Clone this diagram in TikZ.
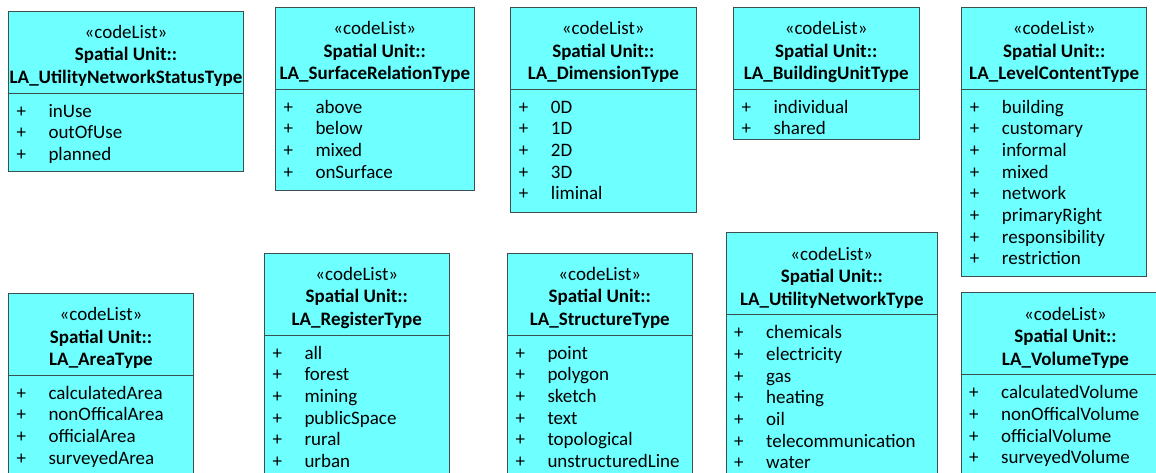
\documentclass[tikz,border=0pt]{standalone}
\usepackage{fontspec}
\setmainfont{Carlito}
\usepackage{tikz}
\definecolor{listfill}{RGB}{110,255,255}
\definecolor{listline}{RGB}{60,80,80}
\tikzset{%
  listbox/.style={draw=listline, fill=listfill, line width=1pt},
  headtext/.style={align=center, inner sep=0pt, font=\fontsize{19}{22.5}\selectfont},
  itemtext/.style={inner sep=0pt, anchor=base west, font=\fontsize{19}{22}\selectfont},
}
% #1 name, #2 left, #3 top, #4 right, #5 bottom, #6 type, #7 literals
\newcommand{\codeListBox}[7]{%
  \draw[listbox] (#2,#3) rectangle (#4,#5);
  \node[headtext, anchor=north] (#1) at ({(#2+#4)/2},#3+14)
    {«codeList»\\ \textbf{Spatial Unit::}\\ \textbf{#6}};
  \draw[listline, line width=1pt] (#2,#3+82) -- (#4,#3+82);
  \foreach \lit [count=\i] in {#7} {
    \node[itemtext] at (#2+8,{#3+82+24+(\i-1)*21.67}) {+};
    \node[itemtext] at (#2+40,{#3+82+24+(\i-1)*21.67}) {\lit};
  }
}

\begin{document}
\begin{tikzpicture}[x=1pt, y=-1pt]
    \useasboundingbox (0,0) rectangle (1156,472);
    \clip (0,0) rectangle (1156,472);

    %first row
    \codeListBox{statusType}{8.3}{11}{243.7}{171}{LA\_UtilityNetworkStatusType}{inUse, outOfUse, planned}
    \codeListBox{surfaceType}{275.3}{7.3}{474.3}{190}{LA\_SurfaceRelationType}{above, below, mixed, onSurface}
    \codeListBox{dimensionType}{510.7}{7.3}{696}{212}{LA\_DimensionType}{0D, 1D, 2D, 3D, liminal}
    \codeListBox{buildingType}{733.3}{7.3}{919}{139}{LA\_BuildingUnitType}{individual, shared}
    \codeListBox{levelType}{961.7}{7.3}{1146.7}{276.7}{LA\_LevelContentType}{building, customary, informal, mixed, network, primaryRight, responsibility, restriction}

    %second row, cut at the bottom
    \codeListBox{areaType}{8.3}{293.3}{193.7}{490}{LA\_AreaType}{calculatedArea, nonOfficalArea, officialArea, surveyedArea}
    \codeListBox{registerType}{264.3}{253}{449.3}{490}{LA\_RegisterType}{all, forest, mining, publicSpace, rural, urban}
    \codeListBox{structureType}{507.3}{253}{692.3}{490}{LA\_StructureType}{point, polygon, sketch, text, topological, unstructuredLine}
    \codeListBox{networkType}{726}{232.7}{937.7}{490}{LA\_UtilityNetworkType}{chemicals, electricity, gas, heating, oil, telecommunication, water}
    \codeListBox{volumeType}{961}{292.7}{1170}{490}{LA\_VolumeType}{calculatedVolume, nonOfficalVolume, officialVolume, surveyedVolume}

\end{tikzpicture}
\end{document}
